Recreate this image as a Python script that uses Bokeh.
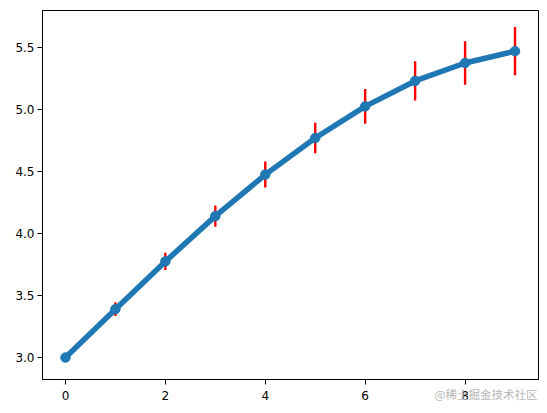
from bokeh.plotting import figure
from bokeh.models import Range1d, FixedTicker, LinearAxis, ColumnDataSource
from bokeh.embed import file_html
from bokeh.resources import INLINE

x = [0, 1, 2, 3, 4, 5, 6, 7, 8, 9]
y = [3.0, 3.39, 3.775, 4.14, 4.475, 4.77, 5.025, 5.23, 5.375, 5.47]
err = [0.025, 0.055, 0.07, 0.085, 0.105, 0.122, 0.14, 0.158, 0.175, 0.195]
x_ticks = [0, 2, 4, 6, 8]
y_ticks = [3.0, 3.5, 4.0, 4.5, 5.0, 5.5]
y_tick_labels = ["3.0", "3.5", "4.0", "4.5", "5.0", "5.5"]
watermark = "@稀土掘金技术社区"

src = ColumnDataSource(dict(
    x=x, y=y,
    lo=[a - e for a, e in zip(y, err)],
    hi=[a + e for a, e in zip(y, err)],
))

p = figure(width=547, height=413, output_backend="svg", toolbar_location=None,
           x_range=Range1d(-0.46, 9.47), y_range=Range1d(2.823, 5.798),
           x_axis_type=None, y_axis_type=None,
           min_border_left=42, min_border_right=9, min_border_top=10, min_border_bottom=34)
p.xgrid.visible = False
p.ygrid.visible = False
p.outline_line_color = "black"
p.outline_line_width = 1
p.background_fill_color = "white"
p.border_fill_color = "white"

def style(ax):
    ax.axis_line_color = "black"
    ax.major_tick_line_color = "black"
    ax.major_tick_out = 5
    ax.major_tick_in = 0
    ax.minor_tick_line_color = None
    ax.major_label_text_font = "DejaVu Sans"
    ax.major_label_text_font_size = "12px"
    ax.major_label_text_color = "black"

xa = LinearAxis(ticker=FixedTicker(ticks=x_ticks))
style(xa)
xa.major_label_standoff = 6
# watermark drawn as the centred axis label; leading ideographic spaces push it to the right
xa.axis_label = "\u3000" * 34 + watermark
xa.axis_label_align = "center"
xa.axis_label_standoff = -17
xa.axis_label_text_font = "Noto Sans CJK SC"
xa.axis_label_text_font_size = "11.5px"
xa.axis_label_text_font_style = "normal"
xa.axis_label_text_color = "#b5b5b5"
p.add_layout(xa, "below")

ya = LinearAxis(ticker=FixedTicker(ticks=y_ticks))
ya.major_label_overrides = {t: s for t, s in zip(y_ticks, y_tick_labels)}
style(ya)
ya.major_label_standoff = 3
p.add_layout(ya, "left")

p.segment(x0="x", y0="lo", x1="x", y1="hi", source=src, line_color="#ff0000", line_width=2.4)
p.line(x="x", y="y", source=src, line_color="#1f77b4", line_width=5.5)
p.scatter(x="x", y="y", source=src, size=9.5, fill_color="#1f77b4", line_color="#1f77b4")

open("out.html", "w").write(file_html(p, INLINE))
